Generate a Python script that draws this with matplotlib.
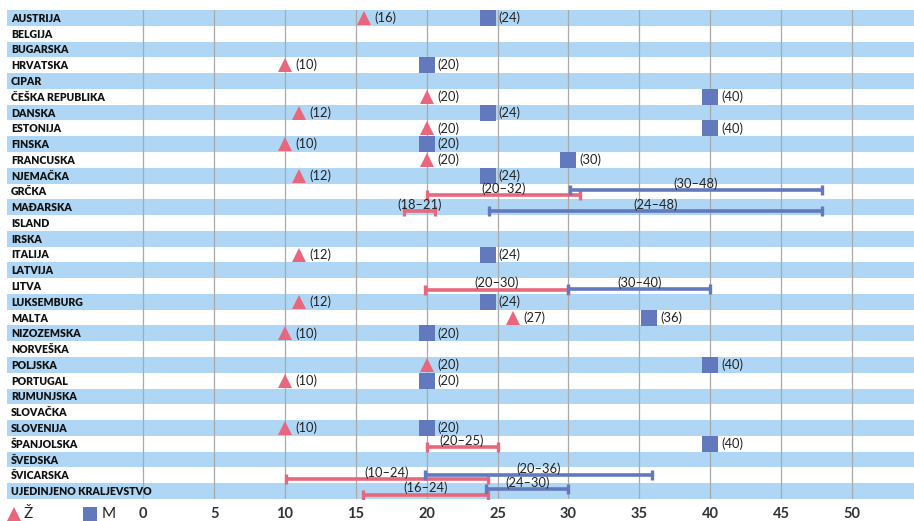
import matplotlib
matplotlib.use("Agg")
import matplotlib.pyplot as plt
from matplotlib.lines import Line2D

# ---------------- data ----------------
countries = ["AUSTRIJA", "BELGIJA", "BUGARSKA", "HRVATSKA", "CIPAR", "ČEŠKA REPUBLIKA",
             "DANSKA", "ESTONIJA", "FINSKA", "FRANCUSKA", "NJEMAČKA", "GRČKA", "MAĐARSKA",
             "ISLAND", "IRSKA", "ITALIJA", "LATVIJA", "LITVA", "LUKSEMBURG", "MALTA",
             "NIZOZEMSKA", "NORVEŠKA", "POLJSKA", "PORTUGAL", "RUMUNJSKA", "SLOVAČKA",
             "SLOVENIJA", "ŠPANJOLSKA", "ŠVEDSKA", "ŠVICARSKA", "UJEDINJENO KRALJEVSTVO"]

# single values (row index, plotted position, label)
f_point_rows = [0, 3, 5, 6, 7, 8, 9, 10, 15, 18, 19, 20, 22, 23, 26]
f_point_vals = [15.6, 10, 20, 11, 20, 10, 20, 11, 11, 11, 26.1, 10, 20, 10, 10]
f_point_lbls = ["(16)", "(10)", "(20)", "(12)", "(20)", "(10)", "(20)", "(12)", "(12)",
                "(12)", "(27)", "(10)", "(20)", "(10)", "(10)"]

m_point_rows = [0, 3, 5, 6, 7, 8, 9, 10, 15, 18, 19, 20, 22, 23, 26, 27]
m_point_vals = [24.3, 20, 40, 24.3, 40, 20, 30, 24.3, 24.3, 24.3, 35.7, 20, 40, 20, 20, 40]
m_point_lbls = ["(24)", "(20)", "(40)", "(24)", "(40)", "(20)", "(30)", "(24)", "(24)",
                "(24)", "(36)", "(20)", "(40)", "(20)", "(20)", "(40)"]

# ranges (row index, low, high, label)
f_range_rows = [11, 12, 17, 27, 29, 30]
f_range_lo = [20, 18.4, 19.9, 20, 10.1, 15.5]
f_range_hi = [30.8, 20.6, 30, 25, 24.3, 24.3]
f_range_lbls = ["(20–32)", "(18–21)", "(20–30)", "(20–25)", "(10–24)", "(16–24)"]

m_range_rows = [11, 12, 17, 29, 30]
m_range_lo = [30.1, 24.4, 30, 19.9, 24.2]
m_range_hi = [47.9, 47.9, 40, 35.9, 30]
m_range_lbls = ["(30–48)", "(24–48)", "(30–40)", "(20–36)", "(24–30)"]

ticks = [0, 5, 10, 15, 20, 25, 30, 35, 40, 45, 50]
legend_labels = ["Ž", "M"]

# ---------------- style ----------------
RED = "#e8677c"
BLUE = "#6279be"
BAND = "#afd7f5"
GRID = "#a9a9a9"
TXT = "#222222"
FONT = ["Lato", "DejaVu Sans"]
plt.rcParams["font.family"] = FONT

W, H = 914, 521
fig = plt.figure(figsize=(W / 100, H / 100), dpi=100)
ax = fig.add_axes([6.7 / W, 1 - 499 / H, 1 - 6.7 / W, (499 - 10) / H])
ax.set_xlim(-9.64, 54.39)
ax.set_ylim(len(countries) - 0.5, -0.5)
for s in ax.spines.values():
    s.set_visible(False)
ax.set_yticks([])
ax.set_xticks(ticks)
ax.set_xticklabels([str(t) for t in ticks], fontsize=10.5, fontweight="bold", color="#333333")
ax.tick_params(axis="x", length=0, pad=6)

for i, name in enumerate(countries):
    if i % 2 == 0:
        ax.axhspan(i - 0.5, i + 0.5, color=BAND, lw=0, zorder=0)
    ax.text(-9.34, i + 0.03, name, ha="left", va="center", fontsize=7.6,
            fontweight="heavy", color="#111111", zorder=3)

for t in ticks:
    ax.axvline(t, color=GRID, lw=0.9, zorder=1)

# points
ax.plot(f_point_vals, f_point_rows, ls="none", marker="^", ms=9.6, mew=0,
        color=RED, zorder=4)
ax.plot(m_point_vals, m_point_rows, ls="none", marker="s", ms=11, mew=0,
        color=BLUE, zorder=4)
for v, r, l in zip(f_point_vals, f_point_rows, f_point_lbls):
    ax.annotate(l, (v, r), xytext=(7.5, 0), textcoords="offset points",
                ha="left", va="center", fontsize=9.3, color=TXT, zorder=5)
for v, r, l in zip(m_point_vals, m_point_rows, m_point_lbls):
    ax.annotate(l, (v, r), xytext=(8, 0), textcoords="offset points",
                ha="left", va="center", fontsize=9.3, color=TXT, zorder=5)

# ranges
f_off = 0.22
m_off = {11: -0.08, 12: 0.27, 17: 0.19, 29: 0.0, 30: -0.13}


def draw_range(lo, hi, y, color, label):
    ax.plot([lo, hi], [y, y], color=color, lw=2.6, solid_capstyle="butt", zorder=3)
    ax.plot([lo, hi], [y, y], ls="none", marker="|", ms=6.5, mew=2.4, color=color, zorder=3)
    ax.annotate(label, ((lo + hi) / 2, y), xytext=(0, 4.6), textcoords="offset points",
                ha="center", va="center", fontsize=9.3, color=TXT, zorder=5)


for r, lo, hi, l in zip(f_range_rows, f_range_lo, f_range_hi, f_range_lbls):
    draw_range(lo, hi, r + f_off, RED, l)
for r, lo, hi, l in zip(m_range_rows, m_range_lo, m_range_hi, m_range_lbls):
    draw_range(lo, hi, r + m_off[r], BLUE, l)

# legend
ly = 1 - 514 / H
fig.add_artist(Line2D([14 / W], [ly], transform=fig.transFigure, marker="^", ms=10,
                      mew=0, color=RED, ls="none"))
fig.text(24 / W, ly, legend_labels[0], ha="left", va="center", fontsize=11, color=TXT)
fig.add_artist(Line2D([90 / W], [ly], transform=fig.transFigure, marker="s", ms=10,
                      mew=0, color=BLUE, ls="none"))
fig.text(102 / W, ly, legend_labels[1], ha="left", va="center", fontsize=11, color=TXT)

fig.savefig("out.png", dpi=100)
